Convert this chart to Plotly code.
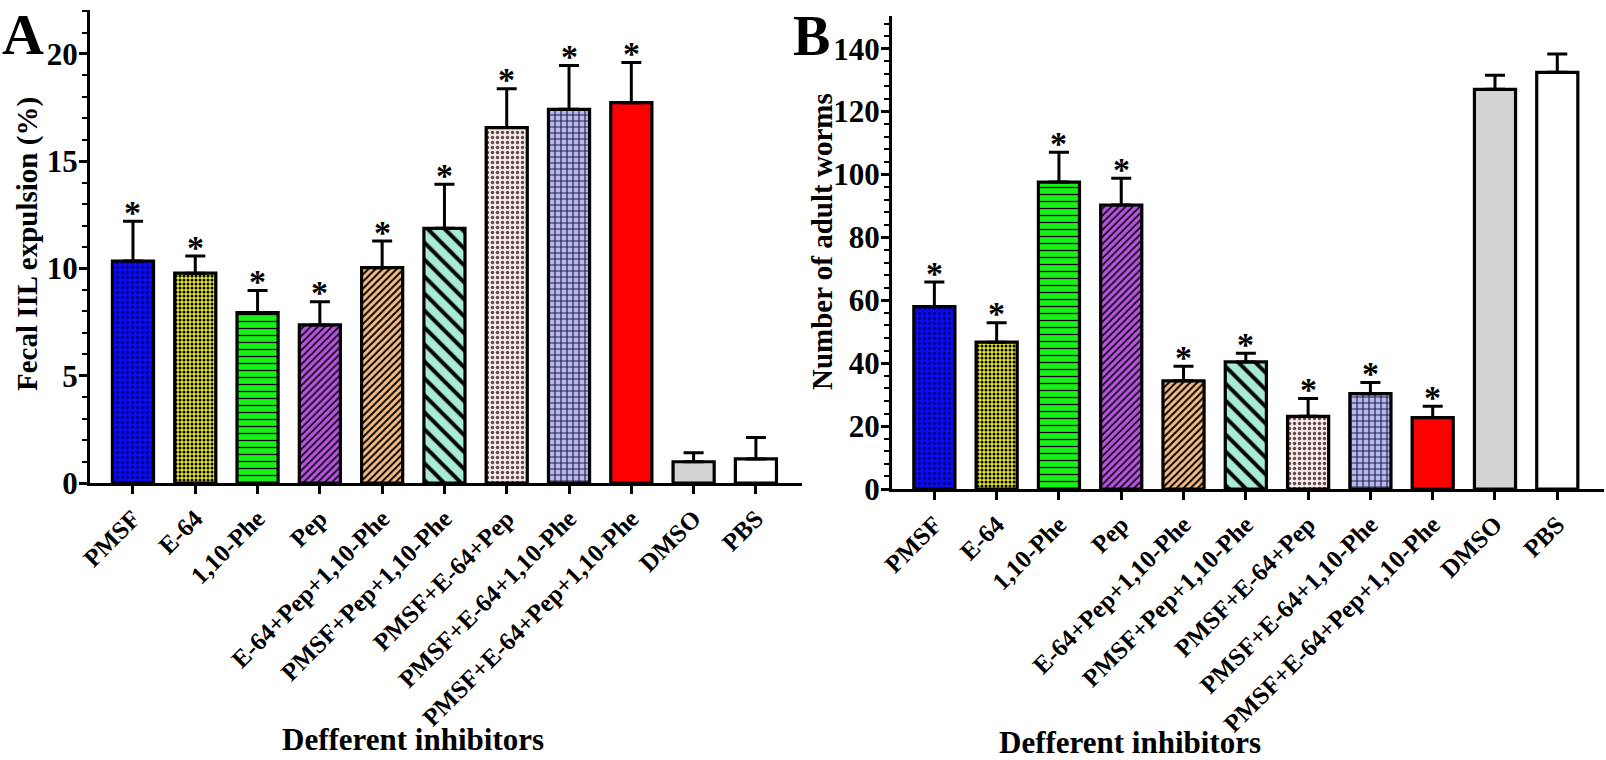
import plotly.graph_objects as go

categories = ["PMSF", "E-64", "1,10-Phe", "Pep", "E-64+Pep+1,10-Phe",
              "PMSF+Pep+1,10-Phe", "PMSF+E-64+Pep", "PMSF+E-64+1,10-Phe",
              "PMSF+E-64+Pep+1,10-Phe", "DMSO", "PBS"]

fecal_mean = [10.35, 9.78, 7.94, 7.37, 10.04, 11.87, 16.57, 17.42, 17.73, 0.99, 1.12]
fecal_err = [1.85, 0.80, 1.03, 1.08, 1.24, 2.06, 1.81, 2.04, 1.87, 0.42, 1.00]

worms_mean = [58.0, 46.7, 97.6, 90.3, 34.4, 40.4, 23.1, 30.3, 22.7, 127.1, 132.5]
worms_err = [7.8, 6.2, 9.5, 8.5, 4.6, 2.8, 5.7, 3.6, 3.6, 4.5, 5.8]

significant = [True] * 9 + [False, False]

bar_colors = ["#0b0bec", "#e6e62a", "#18f018", "#b452dc", "#f6bb80", "#a8ecd6",
              "#f9e6e6", "#b8b8ee", "#ff0000", "#d3d3d3", "#ffffff"]
pat_shapes = [".", ".", "-", "/", "/", "\\", ".", "+", "", "", ""]
pat_fg = ["#000070", "#000000", "#000000", "#000000", "#000000", "#000000",
          "#5a4a4a", "#22224a", "#000000", "#000000", "#000000"]
pat_size = [5, 4, 7, 5, 5, 12, 5, 6, 8, 8, 8]
pat_solid = [0.25, 0.45, 0.18, 0.3, 0.4, 0.33, 0.35, 0.35, 0.3, 0.3, 0.3]

W, H = 1606, 760
FONT = "Liberation Serif"

def px_x(p):
    return p / W

def px_y(p):
    return 1 - p / H

fig = go.Figure()

panels = [
    dict(vals=fecal_mean, errs=fecal_err, xa="x", ya="y"),
    dict(vals=worms_mean, errs=worms_err, xa="x2", ya="y2"),
]

star_annotations = []
for p in panels:
    for i, c in enumerate(categories):
        pattern = dict(shape=pat_shapes[i], fgcolor=pat_fg[i], bgcolor=bar_colors[i],
                       size=pat_size[i], solidity=pat_solid[i], fillmode="replace",
                       fgopacity=1)
        fig.add_trace(go.Bar(
            x=[c], y=[p["vals"][i]], width=0.66,
            marker=dict(color=bar_colors[i], line=dict(color="black", width=3.2),
                        pattern=pattern),
            error_y=dict(type="data", symmetric=False, array=[p["errs"][i]],
                         arrayminus=[0], color="black", thickness=3, width=10),
            xaxis=p["xa"], yaxis=p["ya"], showlegend=False,
        ))
        if significant[i]:
            star_annotations.append(dict(
                x=c, y=p["vals"][i] + p["errs"][i], xref=p["xa"], yref=p["ya"], text="*",
                showarrow=False, xanchor="center", yanchor="middle", yshift=9,
                font=dict(family=FONT, size=34, color="black", weight="bold")))

xcommon = dict(type="category", categoryorder="array", categoryarray=categories,
               showline=True, linecolor="black", linewidth=3,
               ticks="outside", ticklen=8, tickwidth=3, tickcolor="black",
               tickangle=-45, tickfont=dict(family=FONT, size=25, color="black", weight="bold"),
               showgrid=False, zeroline=False, fixedrange=True, automargin=False)
ycommon = dict(showline=True, linecolor="black", linewidth=3, ticks="outside",
               ticklen=8, tickwidth=3, tickcolor="black",
               tickfont=dict(family=FONT, size=31, color="black", weight="bold"),
               showgrid=False, zeroline=False, fixedrange=True, ticklabelstandoff=-5,
               automargin=False)

fig.update_layout(
    width=W, height=H, margin=dict(l=0, r=0, t=0, b=0, autoexpand=False),
    paper_bgcolor="white", plot_bgcolor="white", barmode="overlay",
    xaxis=dict(xcommon, domain=[px_x(90), px_x(802)], range=[-0.69, 10.74], anchor="y"),
    yaxis=dict(ycommon, domain=[px_y(483), px_y(10)], range=[0, 22.05], tickvals=[0, 5, 10, 15, 20],
               minor=dict(ticks="outside", ticklen=5, tickwidth=2, tickcolor="black", dtick=1),
               anchor="x"),
    xaxis2=dict(xcommon, domain=[px_x(892), px_x(1604)], range=[-0.68, 10.75], anchor="y2"),
    yaxis2=dict(ycommon, domain=[px_y(489), px_y(16)], range=[0, 150.4],
                tickvals=[0, 20, 40, 60, 80, 100, 120, 140],
                minor=dict(ticks="outside", ticklen=5, tickwidth=2, tickcolor="black", dtick=4),
                anchor="x2"),
)

ann_font = dict(family=FONT, color="black", weight="bold")
annotations = [
    dict(text="A", x=px_x(0), y=px_y(0), xanchor="left", yanchor="top",
         font=dict(ann_font, size=58)),
    dict(text="B", x=px_x(791), y=px_y(3), xanchor="left", yanchor="top",
         font=dict(ann_font, size=56)),
    dict(text="Fecal IIL expulsion (%)", x=px_x(27), y=px_y(244), textangle=-90,
         xanchor="center", yanchor="middle", font=dict(ann_font, size=29)),
    dict(text="Number of adult worms", x=px_x(822), y=px_y(242), textangle=-90,
         xanchor="center", yanchor="middle", font=dict(ann_font, size=29)),
    dict(text="Defferent inhibitors", x=px_x(413), y=px_y(739),
         xanchor="center", yanchor="middle", font=dict(ann_font, size=31)),
    dict(text="Defferent inhibitors", x=px_x(1130), y=px_y(742),
         xanchor="center", yanchor="middle", font=dict(ann_font, size=31)),
]
for a in annotations:
    a.update(xref="paper", yref="paper", showarrow=False)
fig.update_layout(annotations=annotations + star_annotations)

fig.write_html("out.html", config={"displayModeBar": False},
               post_script="document.body.style.margin='0';document.body.style.padding='0';")
